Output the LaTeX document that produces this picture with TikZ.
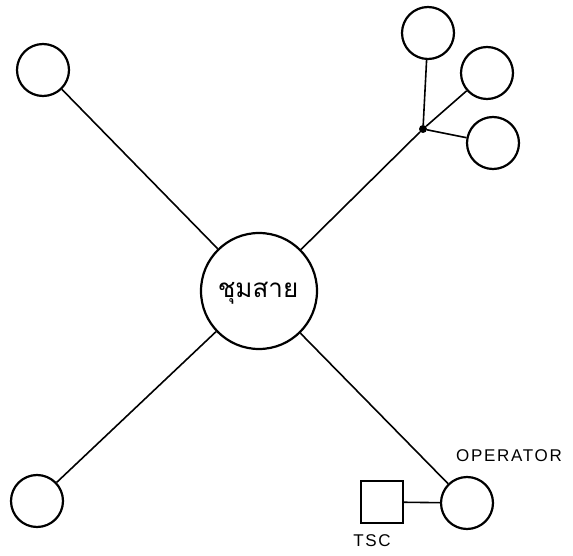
\documentclass[tikz,border=0pt]{standalone}
\usepackage{fontspec}
\newfontfamily\thaifont[Script=Thai]{Loma}
\newfontfamily\labelfont[LetterSpace=10]{Liberation Sans}
\begin{document}
\begin{tikzpicture}[x=1pt,y=-1pt,
  station/.style={circle,draw,line width=2.2pt,minimum size=52pt,inner sep=0pt},
  hub/.style={circle,draw,line width=2.2pt,minimum size=116pt,inner sep=0pt},
  console/.style={rectangle,draw,line width=1.8pt,minimum size=42pt,inner sep=0pt},
  link/.style={line width=1.6pt},
  tag/.style={font=\labelfont\fontsize{17}{17}\selectfont}]
\useasboundingbox (0,0) rectangle (573,556);
% central switching node
\node[hub] (c) at (259,291) {};
\node at (258,293) {\thaifont\fontsize{26}{26}\selectfont ชุมสาย};
% outer stations
\node[station] (tl) at (43,70) {};
\node[station] (bl) at (37,501) {};
\node[station] (op) at (467,503) {};
\node[station] (r1) at (428,33) {};
\node[station] (r2) at (487,73) {};
\node[station] (r3) at (493,143) {};
\node[console] (tsc) at (382,502) {};
% branch point
\node[circle,fill,inner sep=0pt,minimum size=8pt] (j) at (423,129) {};
% connectors
\draw[link] (c) -- (tl);
\draw[link] (c) -- (bl);
\draw[link] (c) -- (op);
\draw[link] (c) -- (j);
\draw[link] (j) -- (r1);
\draw[link] (j) -- (r2);
\draw[link] (j) -- (r3);
\draw[link] (tsc) -- (op);
% labels
\node[tag] (opl) at (509,456) {OPERATOR};
\node[tag] (tscl) at (372,541) {TSC};
\end{tikzpicture}
\end{document}
